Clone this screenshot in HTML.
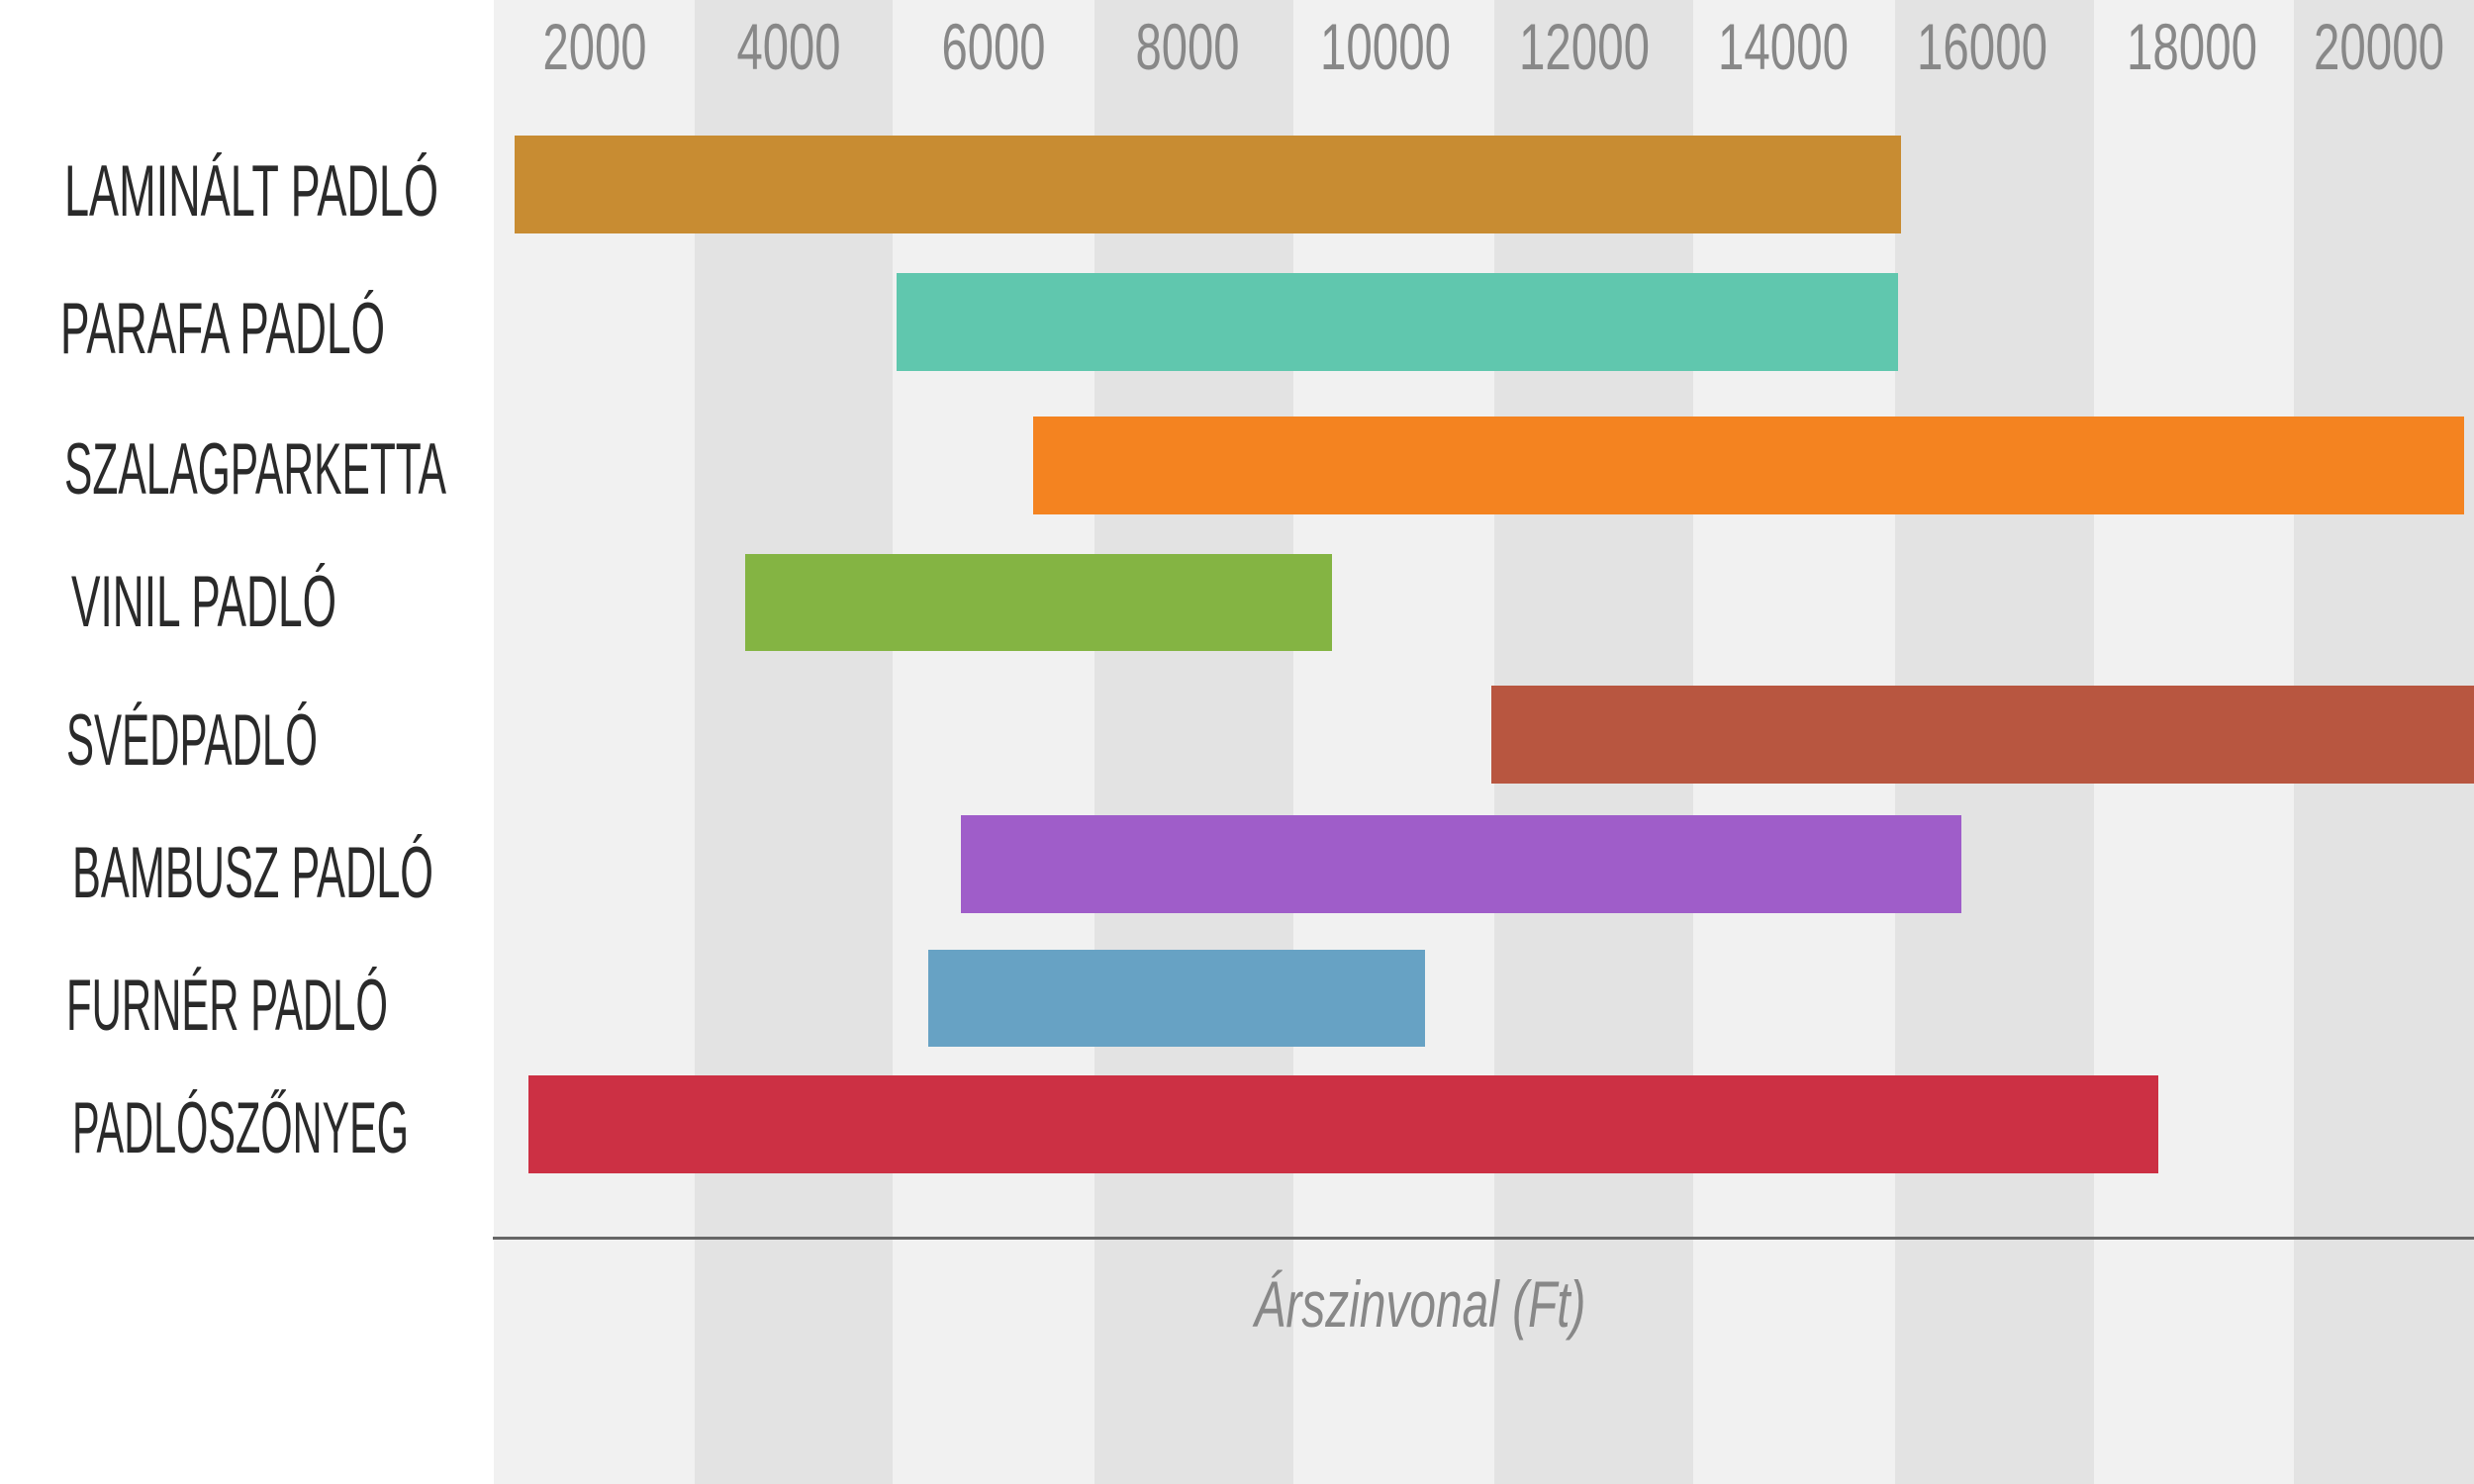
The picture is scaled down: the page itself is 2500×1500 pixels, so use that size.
<!DOCTYPE html>
<html><head><meta charset="utf-8"><style>html,body{margin:0;padding:0;background:#fff}svg{display:block}</style></head>
<body>
<svg width="2500" height="1500" xmlns="http://www.w3.org/2000/svg" font-family="'Liberation Sans', sans-serif">
<rect width="2500" height="1500" fill="#fff"/>
<rect x="499" y="0" width="203" height="1500" fill="#f1f1f1"/>
<rect x="702" y="0" width="200" height="1500" fill="#e3e3e3"/>
<rect x="902" y="0" width="204" height="1500" fill="#f1f1f1"/>
<rect x="1106" y="0" width="201" height="1500" fill="#e3e3e3"/>
<rect x="1307" y="0" width="203" height="1500" fill="#f1f1f1"/>
<rect x="1510" y="0" width="201" height="1500" fill="#e3e3e3"/>
<rect x="1711" y="0" width="204" height="1500" fill="#f1f1f1"/>
<rect x="1915" y="0" width="201" height="1500" fill="#e3e3e3"/>
<rect x="2116" y="0" width="202" height="1500" fill="#f1f1f1"/>
<rect x="2318" y="0" width="182" height="1500" fill="#e3e3e3"/>
<g fill="#888" font-size="66" text-anchor="middle">
<text x="601" y="70" textLength="105" lengthAdjust="spacingAndGlyphs">2000</text>
<text x="797" y="70" textLength="105" lengthAdjust="spacingAndGlyphs">4000</text>
<text x="1004" y="70" textLength="105" lengthAdjust="spacingAndGlyphs">6000</text>
<text x="1200" y="70" textLength="105" lengthAdjust="spacingAndGlyphs">8000</text>
<text x="1400" y="70" textLength="132" lengthAdjust="spacingAndGlyphs">10000</text>
<text x="1601" y="70" textLength="132" lengthAdjust="spacingAndGlyphs">12000</text>
<text x="1802" y="70" textLength="132" lengthAdjust="spacingAndGlyphs">14000</text>
<text x="2003" y="70" textLength="132" lengthAdjust="spacingAndGlyphs">16000</text>
<text x="2215" y="70" textLength="132" lengthAdjust="spacingAndGlyphs">18000</text>
<text x="2404" y="70" textLength="132" lengthAdjust="spacingAndGlyphs">20000</text>
</g>
<rect x="520" y="137" width="1401" height="99" fill="#c88c32"/>
<rect x="906" y="276" width="1012" height="99" fill="#60c7ae"/>
<rect x="1044" y="421" width="1446" height="99" fill="#f48320"/>
<rect x="753" y="560" width="593" height="98" fill="#84b443"/>
<rect x="1507" y="693" width="993" height="99" fill="#b85640"/>
<rect x="971" y="824" width="1011" height="99" fill="#9f5dc9"/>
<rect x="938" y="960" width="502" height="98" fill="#67a2c4"/>
<rect x="534" y="1087" width="1647" height="99" fill="#cc3044"/>
<g fill="#2a2a2a" font-size="73">
<text x="65" y="218" textLength="378" lengthAdjust="spacingAndGlyphs">LAMINÁLT PADLÓ</text>
<text x="61" y="357" textLength="328" lengthAdjust="spacingAndGlyphs">PARAFA PADLÓ</text>
<text x="65" y="499" textLength="386" lengthAdjust="spacingAndGlyphs">SZALAGPARKETTA</text>
<text x="72" y="633" textLength="268" lengthAdjust="spacingAndGlyphs">VINIL PADLÓ</text>
<text x="67" y="773" textLength="254" lengthAdjust="spacingAndGlyphs">SVÉDPADLÓ</text>
<text x="73" y="907" textLength="365" lengthAdjust="spacingAndGlyphs">BAMBUSZ PADLÓ</text>
<text x="67" y="1041" textLength="325" lengthAdjust="spacingAndGlyphs">FURNÉR PADLÓ</text>
<text x="73" y="1165" textLength="340" lengthAdjust="spacingAndGlyphs">PADLÓSZŐNYEG</text>
</g>
<rect x="498" y="1250" width="2002" height="3" fill="#666"/>
<text x="1435" y="1341" fill="#888" font-size="66" font-style="italic" text-anchor="middle" textLength="335" lengthAdjust="spacingAndGlyphs">Árszinvonal (Ft)</text>
</svg>
</body></html>
